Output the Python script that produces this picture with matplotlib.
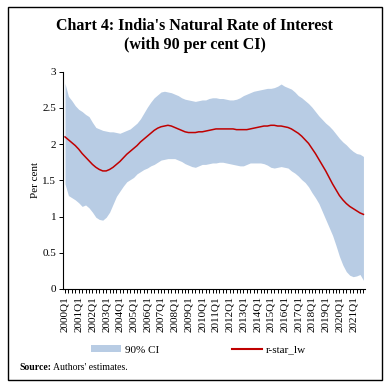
import matplotlib
matplotlib.use('Agg')
import matplotlib.pyplot as plt
import numpy as np
from matplotlib.patches import Rectangle, Patch
from matplotlib.lines import Line2D

plt.rcParams['font.family'] = ['Liberation Serif', 'DejaVu Serif']

# quarters 2000Q1 .. 2021Q4
years = list(range(2000, 2022))
quarters = [f'{y}Q{q}' for y in years for q in range(1, 5)]

r_star = [2.10, 2.06, 2.02, 1.98, 1.93, 1.87, 1.82, 1.77, 1.72, 1.68,
          1.65, 1.63, 1.63, 1.65, 1.68, 1.72, 1.76, 1.81, 1.86, 1.90,
          1.94, 1.98, 2.03, 2.07, 2.11, 2.15, 2.19, 2.22, 2.24, 2.25,
          2.26, 2.25, 2.23, 2.21, 2.19, 2.17, 2.16, 2.16, 2.16, 2.17,
          2.17, 2.18, 2.19, 2.20, 2.21, 2.21, 2.21, 2.21, 2.21, 2.21,
          2.20, 2.20, 2.20, 2.20, 2.21, 2.22, 2.23, 2.24, 2.25, 2.25,
          2.26, 2.26, 2.25, 2.25, 2.24, 2.23, 2.21, 2.18, 2.15, 2.11,
          2.06, 2.01, 1.94, 1.87, 1.79, 1.71, 1.63, 1.54, 1.45, 1.37,
          1.29, 1.23, 1.18, 1.14, 1.11, 1.08, 1.05, 1.03]

ci_upper = [2.84, 2.66, 2.60, 2.53, 2.48, 2.45, 2.41, 2.38, 2.30, 2.23,
            2.21, 2.19, 2.18, 2.17, 2.17, 2.16, 2.15, 2.17, 2.19, 2.21,
            2.25, 2.29, 2.35, 2.43, 2.51, 2.58, 2.64, 2.68, 2.72, 2.73,
            2.72, 2.71, 2.69, 2.67, 2.64, 2.62, 2.61, 2.60, 2.59, 2.60,
            2.61, 2.61, 2.63, 2.64, 2.64, 2.63, 2.63, 2.62, 2.61, 2.61,
            2.62, 2.64, 2.67, 2.69, 2.71, 2.73, 2.74, 2.75, 2.76, 2.77,
            2.77, 2.78, 2.80, 2.83, 2.80, 2.78, 2.76, 2.72, 2.67, 2.64,
            2.60, 2.56, 2.51, 2.45, 2.39, 2.34, 2.29, 2.25, 2.20, 2.14,
            2.08, 2.03, 1.99, 1.94, 1.90, 1.87, 1.86, 1.83]

ci_lower = [1.45, 1.29, 1.26, 1.23, 1.19, 1.14, 1.16, 1.12, 1.06, 0.99,
            0.96, 0.95, 0.99, 1.06, 1.17, 1.28, 1.35, 1.42, 1.48, 1.51,
            1.54, 1.59, 1.62, 1.65, 1.67, 1.70, 1.72, 1.75, 1.78, 1.79,
            1.80, 1.80, 1.80, 1.78, 1.76, 1.73, 1.71, 1.69, 1.68, 1.70,
            1.72, 1.72, 1.73, 1.74, 1.74, 1.75, 1.75, 1.74, 1.73, 1.72,
            1.71, 1.70, 1.70, 1.72, 1.74, 1.74, 1.74, 1.74, 1.73, 1.71,
            1.68, 1.67, 1.68, 1.69, 1.68, 1.67, 1.63, 1.60, 1.56, 1.51,
            1.47, 1.41, 1.33, 1.26, 1.18, 1.07, 0.96, 0.85, 0.74, 0.60,
            0.45, 0.33, 0.24, 0.19, 0.17, 0.18, 0.20, 0.12]

band_color = '#B8CCE4'
line_color = '#C00000'

fig = plt.figure(figsize=(3.89, 3.88), dpi=100)
ax = fig.add_axes([0.1627, 0.2552, 0.776, 0.560])

x = np.arange(len(quarters))
ax.fill_between(x, ci_lower, ci_upper, color=band_color, linewidth=0)
ax.plot(x, r_star, color=line_color, linewidth=1.1)

ax.set_xlim(-0.5, len(quarters) - 0.5)
ax.set_ylim(0, 3)
ax.set_yticks(np.arange(0, 3.01, 0.5))
ax.set_yticklabels(['0', '0.5', '1', '1.5', '2', '2.5', '3'], fontsize=8)
ax.set_xticks(x)
ax.set_xticklabels([q if q.endswith('Q1') else '' for q in quarters],
                   rotation=90, fontsize=8)
ax.tick_params(axis='x', length=3, width=0.7, pad=2)
ax.tick_params(axis='y', length=3, width=0.7, pad=2)
ax.spines['top'].set_visible(False)
ax.spines['right'].set_visible(False)
ax.spines['left'].set_linewidth(0.8)
ax.spines['bottom'].set_linewidth(0.8)
ax.set_ylabel('Per cent', fontsize=8, labelpad=2)

fig.text(0.5, 0.908, "Chart 4: India's Natural Rate of Interest\n(with 90 per cent CI)",
         ha='center', va='center', fontsize=11.5, fontweight='bold',
         linespacing=1.2)

handles = [Patch(facecolor=band_color, edgecolor='none'),
           Line2D([0], [0], color=line_color, linewidth=1.5)]
fig.legend(handles, ['90% CI', 'r-star_lw'], loc='center',
           bbox_to_anchor=(0.51, 0.098), ncol=2, frameon=False, fontsize=8,
           handlelength=2.7, handleheight=0.5, handletextpad=0.35,
           columnspacing=6.5)

t1 = fig.text(0.049, 0.054, 'Source:', fontsize=7, fontweight='bold',
              ha='left', va='center')
fig.canvas.draw()
bb = t1.get_window_extent()
fig.text(bb.x1 / fig.bbox.width + 0.004, 0.054, "Authors' estimates.",
         fontsize=7, ha='left', va='center')

fig.patches.append(Rectangle((8 / 389, 1 - 380 / 388), 374 / 389, 373 / 388,
                             transform=fig.transFigure, fill=False,
                             edgecolor='black', linewidth=1.0))

fig.savefig('out.png', dpi=100)
